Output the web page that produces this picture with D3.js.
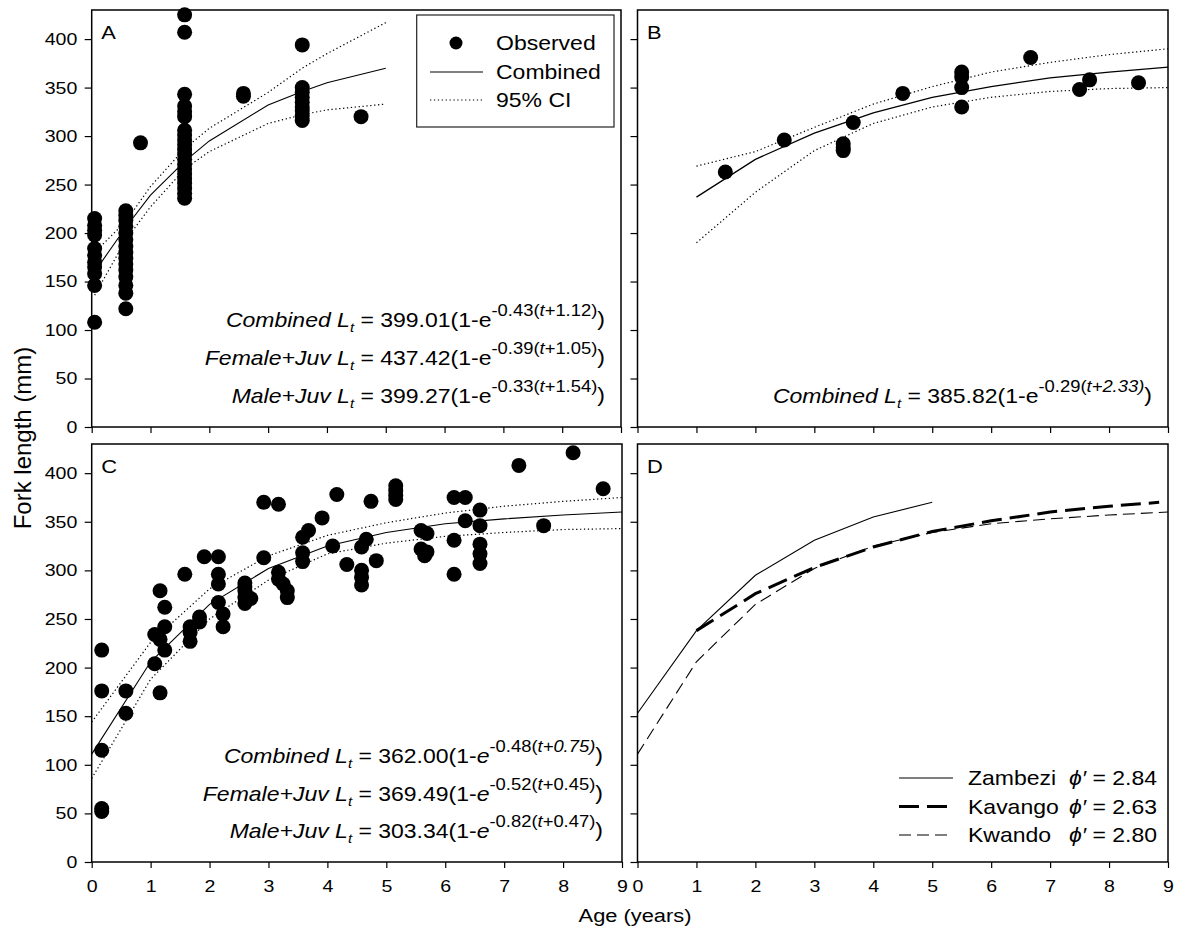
<!DOCTYPE html>
<html>
<head>
<meta charset="utf-8">
<script src="https://cdn.jsdelivr.net/npm/d3@7"></script>
<style>
  body { margin: 0; background: #fff; }
  svg { display: block; font-family: "Liberation Sans", Arial, sans-serif; }
</style>
</head>
<body>
<svg id="chart" width="1177" height="934"></svg>
<script>
// ---- data ----
var yTicks = [0, 50, 100, 150, 200, 250, 300, 350, 400];
var xTicks = [0, 1, 2, 3, 4, 5, 6, 7, 8, 9];

// panel A : observed [age, fork length]
var obsA = [
  [0.05,215],[0.05,208],[0.05,203],[0.05,198],[0.05,184],[0.05,177],[0.05,170],[0.05,165],[0.05,158],[0.05,146],[0.05,108],
  [0.58,223],[0.58,218],[0.58,213],[0.58,207],[0.58,200],[0.58,193],[0.58,186],[0.58,180],[0.58,174],[0.58,168],[0.58,162],[0.58,155],[0.58,146],[0.58,138],[0.58,122],
  [0.83,293],
  [1.58,425],[1.58,407],[1.58,343],[1.58,331],[1.58,325],[1.58,320],[1.58,306],[1.58,301],[1.58,296],[1.58,291],[1.58,286],[1.58,281],[1.58,276],[1.58,271],[1.58,266],[1.58,261],[1.58,256],[1.58,251],[1.58,246],[1.58,241],[1.58,236],
  [2.58,344],[2.58,341],
  [3.58,394],[3.58,350],[3.58,345],[3.58,340],[3.58,335],[3.58,330],[3.58,326],[3.58,321],[3.58,316],
  [4.58,320]
];
var fitAgeA = [0.05, 0.58, 1, 1.58, 2, 3, 3.58, 4, 5];
var fitA    = [160, 206, 239, 274, 295, 332, 346, 355, 370];
var ciUpA   = [180, 212, 248, 287, 308, 345, 370, 385, 417];
var ciLoA   = [136, 193, 227, 266, 284, 313, 322, 327, 333];

// panel B
var obsB = [
  [1.49,263],[2.49,296],[3.49,292],[3.49,288],[3.49,285],[3.66,314],[4.5,344],
  [5.5,366],[5.5,361],[5.5,350],[5.5,330],[6.67,381],[7.5,348],[7.67,358],[8.5,355]
];
var fitAgeB = [1, 2, 3, 4, 5, 6, 7, 8, 9];
var fitB    = [237, 276, 303, 324, 340, 351, 360, 366, 371];
var ciUpB   = [269, 284, 309, 333, 351, 366, 376, 384, 390];
var ciLoB   = [190, 242, 285, 313, 330, 340, 346, 349, 350];

// panel C
var obsC = [
  [0.17,218],[0.17,176],[0.17,115],[0.17,55],[0.17,52],
  [0.58,176],[0.58,153],
  [1.07,204],[1.07,234],[1.16,279],[1.16,229],[1.16,174],[1.24,262],[1.24,242],[1.24,218],
  [1.58,296],[1.67,242],[1.67,236],[1.67,227],[1.83,252],[1.83,247],[1.91,314],
  [2.15,314],[2.15,296],[2.15,286],[2.15,267],[2.23,255],[2.23,242],
  [2.6,287],[2.6,283],[2.6,279],[2.6,272],[2.6,266],[2.7,271],
  [2.92,370],[2.92,313],[3.17,368],[3.17,298],[3.17,291],[3.25,286],[3.32,279],[3.32,272],
  [3.58,334],[3.58,318],[3.58,309],[3.68,341],[3.91,354],[4.09,325],[4.16,378],[4.33,306],
  [4.58,300],[4.58,293],[4.58,285],[4.58,324],[4.66,332],[4.74,371],[4.83,310],
  [5.16,387],[5.16,382],[5.16,377],[5.16,373],
  [5.59,341],[5.69,338],[5.59,322],[5.69,319],[5.65,315],
  [6.15,375],[6.34,375],[6.15,331],[6.15,296],[6.34,351],
  [6.59,362],[6.59,346],[6.59,327],[6.59,317],[6.59,307],
  [7.25,408],[7.67,346],[8.17,421],[8.68,384]
];
var fitAgeC = [0, 1, 2, 3, 4, 5, 6, 7, 8, 9];
var fitC    = [111, 206, 265, 302, 325, 339, 348, 353, 357, 360];
var ciUpC   = [144, 226, 281, 315, 336, 349, 359, 366, 371, 375];
var ciLoC   = [86, 188, 250, 290, 317, 328, 335, 339, 342, 343];

// panel D : river curves
var ageZambezi = [0, 1, 2, 3, 4, 5];
var lenZambezi = [153, 238, 295, 331, 355, 370];
var ageKavango = [1, 2, 3, 4, 5, 6, 7, 8, 8.85];
var lenKavango = [238, 276, 303, 324, 340, 351, 360, 366, 370];
var ageKwando  = [0, 1, 2, 3, 4, 5, 6, 7, 8, 9];
var lenKwando  = [111, 206, 265, 302, 325, 339, 348, 353, 357, 360];

var riverNames = ["Zambezi", "Kavango", "Kwando"];
var riverPhi   = ["2.84", "2.63", "2.80"];

var eqA = [
  {name: "Combined",   coef: "399.01", k: "-0.43", t0: "+1.12"},
  {name: "Female+Juv", coef: "437.42", k: "-0.39", t0: "+1.05"},
  {name: "Male+Juv",   coef: "399.27", k: "-0.33", t0: "+1.54"}
];
var eqB = [
  {name: "Combined",   coef: "385.82", k: "-0.29", t0: "+2.33", it: true}
];
var eqC = [
  {name: "Combined",   coef: "362.00", k: "-0.48", t0: "+0.75", it: true, ie: true},
  {name: "Female+Juv", coef: "369.49", k: "-0.52", t0: "+0.45", ie: true},
  {name: "Male+Juv",   coef: "303.34", k: "-0.82", t0: "+0.47", ie: true}
];

// ---- drawing ----
var SX = 1.15; // the figure's text is a bit wide
var svg = d3.select("#chart");

var panels = {
  A: {x0: 91.7,  x1: 621,  y0: 10,  y1: 427},
  B: {x0: 637.5, x1: 1168, y0: 10,  y1: 427},
  C: {x0: 91.7,  x1: 622,  y0: 444, y1: 862},
  D: {x0: 637.5, x1: 1168, y0: 444, y1: 862}
};

function stxt(g, x, y, anchor, size){
  return g.append("text")
    .attr("transform", "translate(" + x + "," + y + ") scale(" + SX + ",1)")
    .attr("text-anchor", anchor)
    .style("font-size", size + "px")
    .attr("fill", "#000");
}

function makePanel(key, yLabels, xLabels){
  var p = panels[key];
  var x = d3.scaleLinear().domain([0, 9]).range([p.x0, p.x1]);
  var y = d3.scaleLinear().domain([0, 430]).range([p.y1, p.y0]);
  var g = svg.append("g");

  var ya = d3.axisLeft(y).tickValues(yTicks).tickSize(7).tickSizeOuter(0).tickPadding(5.5);
  if(!yLabels) ya.tickFormat("");
  var gy = g.append("g").attr("transform", "translate(" + p.x0 + ",0)").call(ya);

  var xa = d3.axisBottom(x).tickValues(xTicks).tickSize(6).tickSizeOuter(0).tickPadding(12);
  if(!xLabels) xa.tickFormat("");
  var gx = g.append("g").attr("transform", "translate(0," + p.y1 + ")").call(xa);

  [gx, gy].forEach(function(a){
    a.select(".domain").remove();
    a.selectAll("line").attr("stroke", "#000").attr("stroke-width", 1.2);
    a.selectAll("text")
      .style("font-size", "17px")
      .style("font-family", "'Liberation Sans', Arial, sans-serif")
      .attr("fill", "#000");
  });
  gy.selectAll("text").attr("transform", "scale(" + SX + ",1)");
  gx.selectAll("text").attr("transform", "scale(" + SX + ",1)");

  g.append("rect")
    .attr("x", p.x0).attr("y", p.y0)
    .attr("width", p.x1 - p.x0).attr("height", p.y1 - p.y0)
    .attr("fill", "none").attr("stroke", "#000").attr("stroke-width", 1.5);

  stxt(g, p.x0 + 9.5, p.y0 + 28.5, "start", 19).text(key);

  return {g: g, x: x, y: y, p: p};
}

function curve(P, ages, vals, style){
  var pts = ages.map(function(a, i){ return [a, vals[i]]; });
  var line = d3.line().x(function(d){ return P.x(d[0]); }).y(function(d){ return P.y(d[1]); });
  var path = P.g.append("path").datum(pts).attr("d", line)
    .attr("fill", "none").attr("stroke", "#000")
    .attr("stroke-width", style.w || 1.1);
  if(style.dash) path.attr("stroke-dasharray", style.dash);
  return path;
}

var DOT = "1.3,2.6";

function dots(P, data){
  P.g.append("g").selectAll("circle").data(data).enter().append("circle")
    .attr("cx", function(d){ return P.x(d[0]); })
    .attr("cy", function(d){ return P.y(d[1]); })
    .attr("r", 7.5).attr("fill", "#000");
}

function equation(g, xr, yb, e){
  var t = stxt(g, xr, yb, "end", 20);
  t.append("tspan").style("font-style", "italic").text(e.name + " L");
  t.append("tspan").attr("dy", 5).style("font-size", "13px").style("font-style", "italic").text("t");
  t.append("tspan").attr("dy", -5).text(" = " + e.coef + "(1-");
  t.append("tspan").style("font-style", e.ie ? "italic" : "normal").text("e");
  t.append("tspan").attr("dy", -11).style("font-size", "16px").text(e.k + "(");
  t.append("tspan").style("font-size", "16px").style("font-style", "italic").text("t");
  t.append("tspan").style("font-size", "16px").style("font-style", e.it ? "italic" : "normal").text(e.t0 + ")");
  t.append("tspan").attr("dy", 10).text(")");
}

// Panel A
var A = makePanel("A", true, false);
curve(A, fitAgeA, ciUpA, {w: 1.2, dash: DOT});
curve(A, fitAgeA, ciLoA, {w: 1.2, dash: DOT});
dots(A, obsA);
curve(A, fitAgeA, fitA, {w: 1.1});
eqA.forEach(function(e, i){ equation(A.g, 605, 327 + i * 38, e); });

// legend in A
var lg = A.g.append("g");
lg.append("rect").attr("x", 416.7).attr("y", 15).attr("width", 197.3).attr("height", 112)
  .attr("fill", "#fff").attr("stroke", "#222").attr("stroke-width", 1.2);
lg.append("circle").attr("cx", 456).attr("cy", 43).attr("r", 6.5).attr("fill", "#000");
lg.append("line").attr("x1", 430).attr("x2", 483).attr("y1", 72).attr("y2", 72)
  .attr("stroke", "#000").attr("stroke-width", 1.1);
lg.append("line").attr("x1", 430).attr("x2", 483).attr("y1", 100).attr("y2", 100)
  .attr("stroke", "#000").attr("stroke-width", 1.2).attr("stroke-dasharray", DOT);
["Observed", "Combined", "95% CI"].forEach(function(s, i){
  stxt(lg, 496, 50 + i * 28.5, "start", 20).text(s);
});

// Panel B
var B = makePanel("B", false, false);
curve(B, fitAgeB, ciUpB, {w: 1.2, dash: DOT});
curve(B, fitAgeB, ciLoB, {w: 1.2, dash: DOT});
dots(B, obsB);
curve(B, fitAgeB, fitB, {w: 1.3});
eqB.forEach(function(e){ equation(B.g, 1152, 403, e); });

// Panel C
var C = makePanel("C", true, true);
curve(C, fitAgeC, ciUpC, {w: 1.2, dash: DOT});
curve(C, fitAgeC, ciLoC, {w: 1.2, dash: DOT});
dots(C, obsC);
curve(C, fitAgeC, fitC, {w: 1.1});
eqC.forEach(function(e, i){ equation(C.g, 603, 763 + i * 37.5, e); });

// Panel D
var D = makePanel("D", false, true);
var riverStyles = [{w: 1.1}, {w: 3, dash: "20,8"}, {w: 1.1, dash: "12,6"}];
curve(D, ageZambezi, lenZambezi, riverStyles[0]);
curve(D, ageKwando, lenKwando, riverStyles[2]);
curve(D, ageKavango, lenKavango, riverStyles[1]);

var dl = D.g.append("g");
riverNames.forEach(function(n, i){
  var yb = 785 + i * 28.5;
  var s = riverStyles[i];
  var ln = dl.append("line").attr("x1", 899).attr("x2", 953).attr("y1", yb - 7).attr("y2", yb - 7)
    .attr("stroke", "#000").attr("stroke-width", s.w);
  if(s.dash) ln.attr("stroke-dasharray", s.dash);
  stxt(dl, 968, yb, "start", 20).text(n);
  var t = stxt(dl, 1157, yb, "end", 20);
  t.append("tspan").style("font-style", "italic").text("\u03D5\u2032");
  t.append("tspan").text(" = " + riverPhi[i]);
});

// axis titles
stxt(svg, 635, 922, "middle", 19).text("Age (years)");
svg.append("text")
  .attr("transform", "translate(31,438) rotate(-90)")
  .attr("text-anchor", "middle")
  .style("font-size", "24px")
  .text("Fork length (mm)");
</script>
</body>
</html>
